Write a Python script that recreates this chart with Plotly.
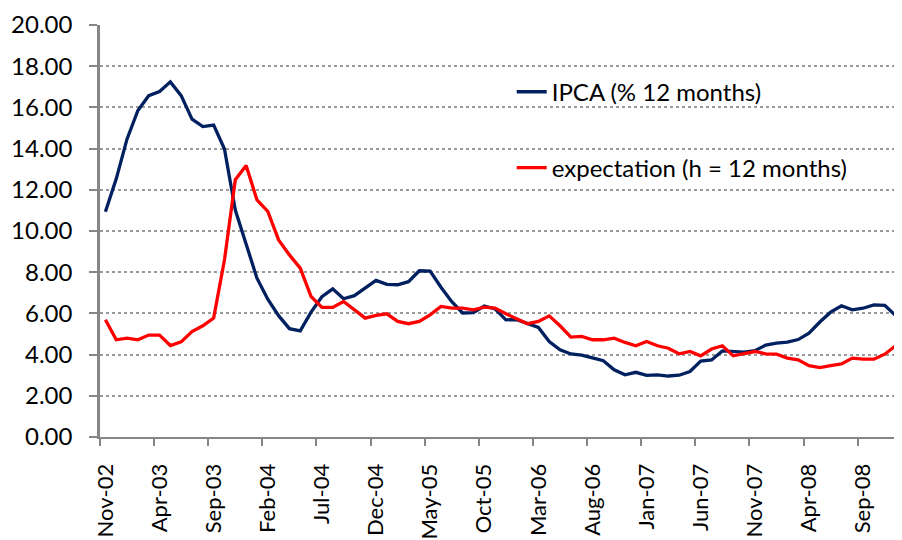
import pandas as pd
import plotly.graph_objects as go

# Monthly categories, Nov-2002 .. Dec-2008
months = [d.strftime("%b-%y") for d in pd.date_range("2002-11-01", "2008-12-01", freq="MS")]

ipca = [10.93, 12.53, 14.47, 15.85, 16.57, 16.77, 17.24, 16.57, 15.43, 15.07, 15.14, 13.98,
        11.02, 9.30, 7.71, 6.69, 5.89, 5.26, 5.15, 6.06, 6.81, 7.19, 6.71, 6.86,
        7.24, 7.60, 7.41, 7.39, 7.54, 8.07, 8.05, 7.27, 6.57, 6.02, 6.04, 6.36,
        6.22, 5.69, 5.70, 5.51, 5.32, 4.63, 4.23, 4.03, 3.97, 3.84, 3.70, 3.26,
        3.02, 3.14, 2.99, 3.02, 2.96, 3.00, 3.18, 3.69, 3.74, 4.18, 4.15, 4.12,
        4.19, 4.46, 4.56, 4.61, 4.73, 5.04, 5.58, 6.06, 6.37, 6.17, 6.25, 6.41, 6.39, 5.90]

expectation = [5.69, 4.72, 4.80, 4.72, 4.95, 4.95, 4.44, 4.62, 5.12, 5.40, 5.77, 8.60,
               12.49, 13.18, 11.51, 10.95, 9.57, 8.84, 8.20, 6.82, 6.29, 6.29, 6.58, 6.17,
               5.77, 5.90, 5.98, 5.61, 5.50, 5.61, 5.93, 6.34, 6.26, 6.26, 6.17, 6.30,
               6.26, 5.98, 5.72, 5.50, 5.61, 5.88, 5.40, 4.85, 4.88, 4.72, 4.72, 4.80,
               4.59, 4.43, 4.64, 4.43, 4.31, 4.04, 4.15, 3.94, 4.27, 4.43, 3.94, 4.04,
               4.15, 4.04, 4.02, 3.83, 3.75, 3.46, 3.37, 3.47, 3.55, 3.83, 3.78, 3.78, 4.02, 4.43]

series_names = ["IPCA (% 12 months)", "expectation (h = 12 months)"]
tick_labels = ["Nov-02", "Apr-03", "Sep-03", "Feb-04", "Jul-04", "Dec-04", "May-05", "Oct-05",
               "Mar-06", "Aug-06", "Jan-07", "Jun-07", "Nov-07", "Apr-08", "Sep-08"]

x = list(range(len(months)))
label_pos = [months.index(t) for t in tick_labels]
boundary_pos = [p - 0.5 for p in label_pos]

FONT = "Lato, 'Open Sans', sans-serif"
AXIS_GRAY = "#868686"

fig = go.Figure()
fig.add_trace(go.Scatter(x=x, y=ipca, mode="lines", name=series_names[0],
                         line=dict(color="#002060", width=3.3), legend="legend"))
fig.add_trace(go.Scatter(x=x, y=expectation, mode="lines", name=series_names[1],
                         line=dict(color="#FF0000", width=3.3), legend="legend2"))

fig.update_layout(
    width=894, height=532,
    margin=dict(l=92, r=1, t=17, b=103, autoexpand=False),
    paper_bgcolor="white", plot_bgcolor="white",
    font=dict(family=FONT, size=24, color="#000000"),
    showlegend=True,
    legend=dict(x=0.514, y=0.837, xanchor="left", yanchor="middle",
                bgcolor="rgba(0,0,0,0)", font=dict(size=24), borderwidth=0),
    legend2=dict(x=0.514, y=0.653, xanchor="left", yanchor="middle",
                 bgcolor="rgba(0,0,0,0)", font=dict(size=24), borderwidth=0),
    xaxis=dict(
        range=[-0.5, len(months) - 0.5], automargin=False,
        tickmode="array", tickvals=label_pos, ticktext=tick_labels,
        tickangle=-90, ticks="", showgrid=False, zeroline=False,
        showline=True, linecolor=AXIS_GRAY, linewidth=2,
        ticklabelstandoff=16,
        tickfont=dict(size=22, color="#000000"),
        minor=dict(tickmode="array", tickvals=boundary_pos, ticks="outside",
                   ticklen=7, tickwidth=2, tickcolor=AXIS_GRAY, showgrid=False),
    ),
    yaxis=dict(
        range=[0, 20], tick0=0, dtick=2, tickformat=".2f", automargin=False,
        showgrid=True, gridcolor="#9a9a9a", griddash="dot", gridwidth=1.5,
        zeroline=False, showline=True, linecolor=AXIS_GRAY, linewidth=2.5,
        ticks="outside", ticklen=8, tickwidth=2, tickcolor=AXIS_GRAY,
        ticklabelstandoff=12,
        tickfont=dict(size=24, color="#000000"),
    ),
)

fig.write_html("out.html")
